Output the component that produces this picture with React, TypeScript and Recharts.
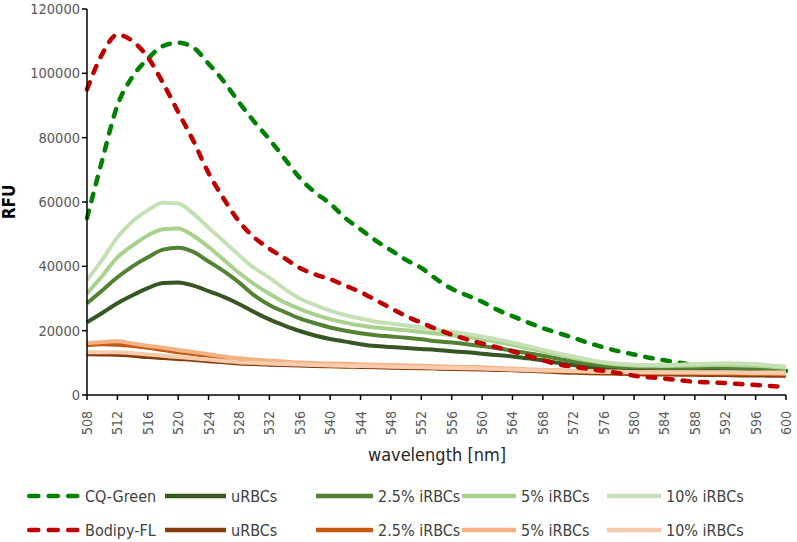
import { LineChart, Line, XAxis, YAxis, Legend, Label } from 'recharts';

const wavelengths = [
  508, 510, 512, 514, 516, 518, 520, 522, 524, 526, 528, 530, 532, 534, 536, 538,
  540, 542, 544, 546, 548, 550, 552, 554, 556, 558, 560, 562, 564, 566, 568, 570,
  572, 574, 576, 578, 580, 582, 584, 586, 588, 590, 592, 594, 596, 598, 600,
];

const cqGreen = [
  55000, 73000, 90000, 99000, 104500, 108500, 109500, 108000, 103000, 97500, 91000, 85000,
  79500, 73500, 67500, 63000, 59500, 55000, 51500, 48000, 45000, 42000, 39500, 36000,
  33000, 31000, 29000, 26500, 24500, 22600, 20800, 19300, 17800, 16200, 14800, 13600,
  12600, 11600, 10800, 10000, 9300, 8800, 8500, 8200, 8000, 7800, 7500,
];
const greenURBC = [
  22600, 25500, 28500, 31000, 33200, 34800, 35000, 34000, 32300, 30500, 28300, 25800,
  23500, 21600, 19900, 18500, 17400, 16600, 15800, 15200, 14900, 14600, 14300, 14000,
  13600, 13300, 12800, 12400, 12000, 11400, 10800, 10000, 9300, 8700, 8300, 8000,
  7800, 7800, 7700, 7800, 7800, 7800, 7700, 7600, 7400, 7200, 7000,
];
const green25 = [
  28500, 32500, 36600, 40000, 42800, 45200, 45800, 44500, 41500, 38500, 35000, 31000,
  28000, 25800, 23800, 22300, 21000, 20000, 19200, 18600, 18200, 17800, 17300, 16700,
  16300, 15800, 15200, 14500, 13800, 13000, 12200, 11300, 10400, 9700, 9200, 8800,
  8600, 8500, 8400, 8500, 8500, 8600, 8500, 8400, 8300, 8000, 7700,
];
const green5 = [
  31600, 37000, 42800, 46500, 49600, 51500, 51800, 49500, 46000, 42000, 38000, 34500,
  31500, 28800, 26800, 25000, 23600, 22500, 21600, 21000, 20500, 20100, 19600, 19100,
  18600, 18000, 17300, 16500, 15600, 14600, 13600, 12600, 11600, 10700, 10000, 9500,
  9200, 9100, 9000, 9100, 9200, 9300, 9300, 9200, 9100, 8800, 8400,
];
const green10 = [
  35700, 42000, 49000, 54000, 57400, 59800, 59500, 56400, 52000, 47800, 43500, 39500,
  36500, 33000, 30000, 28000, 26200, 24800, 23800, 22800, 22200, 21600, 21000, 20300,
  19700, 19000, 18200, 17300, 16300, 15200, 14100, 13000, 12000, 11000, 10200, 9700,
  9400, 9300, 9300, 9400, 9600, 9800, 9900, 9800, 9600, 9200, 8800,
];
const bodipy = [
  95000, 106000, 112000, 110000, 105000, 97000, 88000, 79000, 69000, 61000, 54000, 49000,
  45500, 42500, 39500, 37500, 36000, 34000, 32000, 29500, 27000, 24500, 22500, 20500,
  18800, 17300, 16000, 14800, 13600, 12200, 10800, 9500, 8800, 8100, 7500, 6800,
  6000, 5500, 5100, 4600, 4100, 3900, 3700, 3400, 3100, 2800, 2500,
];
const orangeURBC = [
  12700, 12600, 12500, 12200, 11800, 11500, 11200, 10900, 10500, 10200, 9800, 9600,
  9400, 9300, 9200, 9000, 8900, 8800, 8700, 8600, 8500, 8400, 8300, 8200,
  8100, 8000, 7900, 7800, 7700, 7500, 7300, 7100, 6900, 6800, 6700, 6600,
  6500, 6400, 6400, 6300, 6300, 6200, 6200, 6100, 6100, 6000, 6000,
];
const orange25 = [
  15500, 15800, 15600, 15200, 14700, 14000, 13300, 12700, 12100, 11500, 11000, 10600,
  10300, 10000, 9800, 9600, 9500, 9400, 9200, 9100, 9000, 8900, 8800, 8600,
  8500, 8400, 8300, 8100, 8000, 7800, 7600, 7400, 7300, 7200, 7100, 7000,
  6900, 6900, 6800, 6800, 6700, 6700, 6600, 6600, 6500, 6500, 6400,
];
const orange5 = [
  16100, 16500, 16700, 16000, 15300, 14700, 14000, 13400, 12700, 12000, 11400, 11000,
  10700, 10400, 10100, 9900, 9800, 9700, 9500, 9400, 9300, 9200, 9100, 8900,
  8800, 8700, 8600, 8400, 8200, 8000, 7800, 7700, 7500, 7400, 7300, 7200,
  7100, 7100, 7000, 7000, 7000, 6900, 6900, 6900, 6800, 6800, 6700,
];
const orange10 = [
  13300, 13300, 13300, 13000, 12600, 12200, 11800, 11400, 11000, 10600, 10200, 10000,
  9800, 9600, 9500, 9300, 9200, 9100, 9000, 8900, 8800, 8700, 8600, 8500,
  8400, 8300, 8200, 8100, 7900, 7800, 7600, 7500, 7400, 7300, 7200, 7200,
  7100, 7100, 7100, 7100, 7100, 7100, 7100, 7000, 7000, 7000, 7000,
];

const xTicks = [508, 512, 516, 520, 524, 528, 532, 536, 540, 544, 548, 552, 556, 560, 564, 568, 572, 576, 580, 584, 588, 592, 596, 600];
const yTicks = [0, 20000, 40000, 60000, 80000, 100000, 120000];

const data = wavelengths.map((w, i) => ({
  w,
  cqGreen: cqGreen[i],
  greenURBC: greenURBC[i],
  green25: green25[i],
  green5: green5[i],
  green10: green10[i],
  bodipy: bodipy[i],
  orangeURBC: orangeURBC[i],
  orange25: orange25[i],
  orange5: orange5[i],
  orange10: orange10[i],
}));

// draw order matters: green dashed sits under the solid lines, red dashed on top
const series = [
  { key: 'cqGreen', name: 'CQ-Green', color: '#008000', dashed: true },
  { key: 'greenURBC', name: 'uRBCs', color: '#375623' },
  { key: 'green25', name: '2.5% iRBCs', color: '#548235' },
  { key: 'green5', name: '5% iRBCs', color: '#a9d18e' },
  { key: 'green10', name: '10% iRBCs', color: '#c5e0b4' },
  { key: 'orangeURBC', name: 'uRBCs', color: '#843c0c' },
  { key: 'orange25', name: '2.5% iRBCs', color: '#c55a11' },
  { key: 'orange5', name: '5% iRBCs', color: '#f4b183' },
  { key: 'orange10', name: '10% iRBCs', color: '#f8cbad' },
  { key: 'bodipy', name: 'Bodipy-FL', color: '#c00000', dashed: true },
];

const legendRows = [
  ['cqGreen', 'greenURBC', 'green25', 'green5', 'green10'],
  ['bodipy', 'orangeURBC', 'orange25', 'orange5', 'orange10'],
];
const legendCols = [
  { x: 27, w: 53 },
  { x: 165, w: 61 },
  { x: 316, w: 57 },
  { x: 462, w: 54 },
  { x: 607, w: 54 },
];

const FONT = "'DejaVu Sans Condensed', 'Noto Sans', sans-serif";

function XTick(props: any) {
  const { x, y, payload } = props;
  return (
    <text
      x={0}
      y={0}
      transform={`translate(${x + 5},${y + 9}) rotate(-90)`}
      textAnchor="end"
      fontSize={14}
      fill="#595959"
      fontFamily={FONT}
    >
      {payload.value}
    </text>
  );
}

function ChartLegend() {
  return (
    <svg width={797} height={60}>
      {legendRows.map((row, r) =>
        row.map((key, c) => {
          const s = series.find((d) => d.key === key)!;
          const col = legendCols[c];
          const y = 16 + r * 34;
          return (
            <g key={key}>
              <line
                x1={col.x + (s.dashed ? 2.25 : 0)}
                x2={col.x + col.w - (s.dashed ? 2.25 : 0)}
                y1={y}
                y2={y}
                stroke={s.color}
                strokeWidth={4.5}
                strokeDasharray={s.dashed ? '9 10.5' : undefined}
                strokeLinecap={s.dashed ? 'round' : 'butt'}
              />
              <text x={col.x + col.w + 5} y={y + 6} fontSize={16} fill="#404040" fontFamily={FONT}>
                {s.name}
              </text>
            </g>
          );
        })
      )}
    </svg>
  );
}

export default function App() {
  return (
    <div style={{ position: 'absolute', left: 0, top: 0, width: 797, height: 542, background: '#fff' }}>
      <LineChart width={797} height={542} data={data} margin={{ top: 9, right: 11, left: 27, bottom: 17 }}>
        <XAxis
          dataKey="w"
          type="number"
          domain={[508, 600]}
          ticks={xTicks}
          interval={0}
          height={70}
          stroke="#000"
          strokeWidth={1.5}
          tickSize={5}
          tickLine={{ stroke: '#000' }}
          tick={<XTick />}
        >
          <Label
            content={() => (
              <text x={437} y={461} textAnchor="middle" fontSize={18} fill="#262626" fontFamily={FONT}>
                wavelength [nm]
              </text>
            )}
          />
        </XAxis>
        <YAxis
          type="number"
          domain={[0, 120000]}
          ticks={yTicks}
          width={60}
          stroke="#000"
          strokeWidth={1.5}
          tickSize={5}
          tick={{ fontSize: 14.5, fill: '#595959', fontFamily: FONT }}
        >
          <Label
            content={() => (
              <text
                x={0}
                y={0}
                transform="translate(15,202) rotate(-90)"
                textAnchor="middle"
                fontSize={17}
                fontWeight={600}
                fill="#000"
                fontFamily={FONT}
              >
                RFU
              </text>
            )}
          />
        </YAxis>
        {series.map((s) => (
          <Line
            key={s.key}
            dataKey={s.key}
            name={s.name}
            type="monotone"
            stroke={s.color}
            strokeWidth={s.dashed ? 4.5 : 4}
            strokeDasharray={s.dashed ? '7.5 10' : undefined}
            strokeLinecap={s.dashed ? 'round' : 'butt'}
            dot={false}
            activeDot={false}
            isAnimationActive={false}
          />
        ))}
        <Legend
          content={() => <ChartLegend />}
          wrapperStyle={{ position: 'absolute', left: 0, top: 480, width: 797, height: 60 }}
        />
      </LineChart>
    </div>
  );
}
